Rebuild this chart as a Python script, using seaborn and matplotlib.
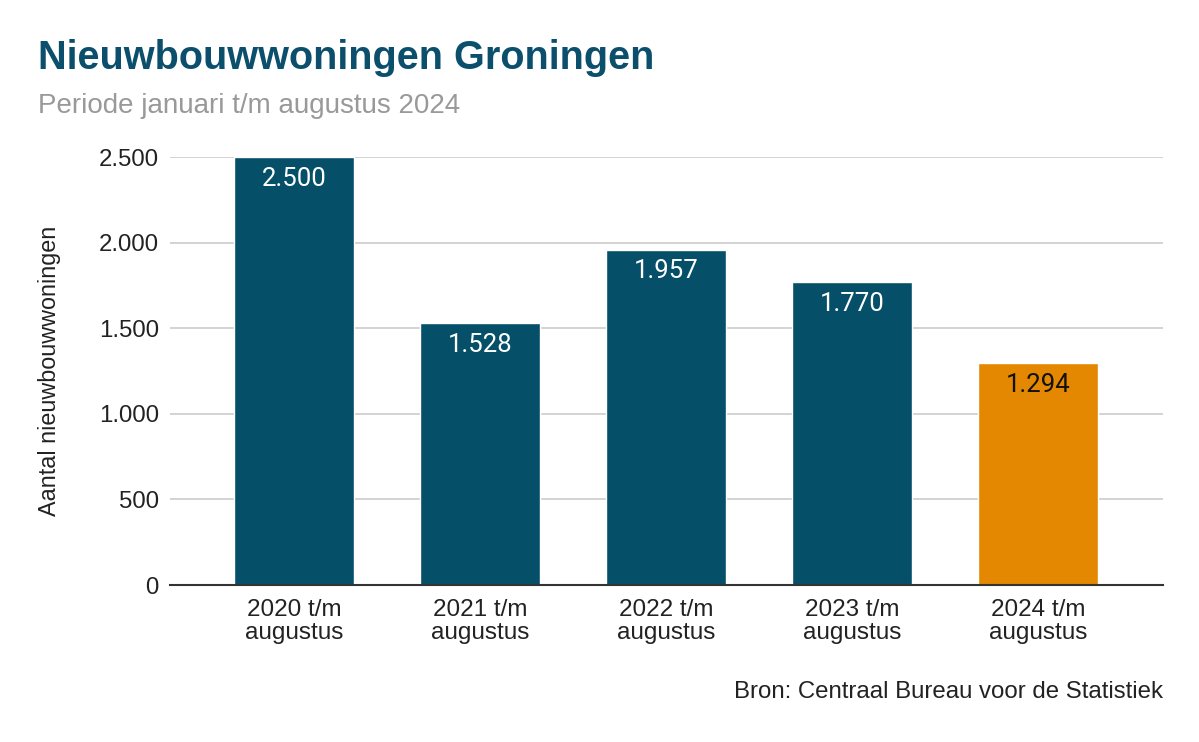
import matplotlib
matplotlib.use("Agg")
import matplotlib.pyplot as plt
import seaborn as sns
import pandas as pd

categories = ["2020 t/m\naugustus", "2021 t/m\naugustus", "2022 t/m\naugustus",
              "2023 t/m\naugustus", "2024 t/m\naugustus"]
values = [2500, 1528, 1957, 1770, 1294]
labels = ["2.500", "1.528", "1.957", "1.770", "1.294"]
yticks = [0, 500, 1000, 1500, 2000, 2500]
ytick_labels = ["0", "500", "1.000", "1.500", "2.000", "2.500"]

DARK = "#054F69"
ORANGE = "#E38800"
colors = [DARK, DARK, DARK, DARK, ORANGE]
label_colors = ["white", "white", "white", "white", "#111111"]

sns.set_theme(style="white")
plt.rcParams["font.family"] = ["Liberation Sans", "DejaVu Sans"]

df = pd.DataFrame({"cat": categories, "val": values})

fig = plt.figure(figsize=(11.99, 7.42), dpi=100)
ax = fig.add_axes([170/1199, 1-585/742, (1163-170)/1199, (585-157)/742])

sns.barplot(data=df, x="cat", y="val", hue="cat", palette=colors, legend=False,
            width=120/186, ax=ax, saturation=1, zorder=3)

ax.set_xlim(-124/186, 4 + 125/186)
ax.set_ylim(0, 2500)
ax.set_yticks(yticks)
ax.set_yticklabels(ytick_labels)
ax.yaxis.grid(True, color="#CCCCCC", linewidth=1.2, zorder=0)
ax.set_axisbelow(True)
for s in ["top", "right", "left"]:
    ax.spines[s].set_visible(False)
ax.spines["bottom"].set_color("#333333")
ax.spines["bottom"].set_linewidth(1.5)
ax.spines["bottom"].set_zorder(5)
ax.tick_params(axis="both", length=0, labelsize=17.3, colors="#222222")
ax.tick_params(axis="x", pad=10)
ax.tick_params(axis="y", pad=8)
for t in ax.get_xticklabels():
    t.set_linespacing(1.05)
    t.set_fontsize(17.5)
ax.set_xlabel("")
ax.set_ylabel("Aantal nieuwbouwwoningen", fontsize=16.8, color="#222222")
ax.yaxis.set_label_coords(-109/993, 0.5)

for i, (v, lab) in enumerate(zip(values, labels)):
    ax.annotate(lab, (i, v), xytext=(0, -15.5), textcoords="offset points",
                ha="center", va="center", fontsize=18.5, color=label_colors[i],
                family=["Roboto", "DejaVu Sans"], fontstretch="normal",
                fontweight="normal", zorder=6)

fig.text(38/1199, 1-58/742, "Nieuwbouwwoningen Groningen", fontsize=28.5,
         fontweight="bold", color="#0B4F6C", ha="left", va="center")
fig.text(38/1199, 1-106/742, "Periode januari t/m augustus 2024", fontsize=20,
         color="#999999", ha="left", va="center")
fig.text(1163/1199, 1-692/742, "Bron: Centraal Bureau voor de Statistiek",
         fontsize=17.3, color="#222222", ha="right", va="center")

fig.savefig("out.png", dpi=100, facecolor="white")
